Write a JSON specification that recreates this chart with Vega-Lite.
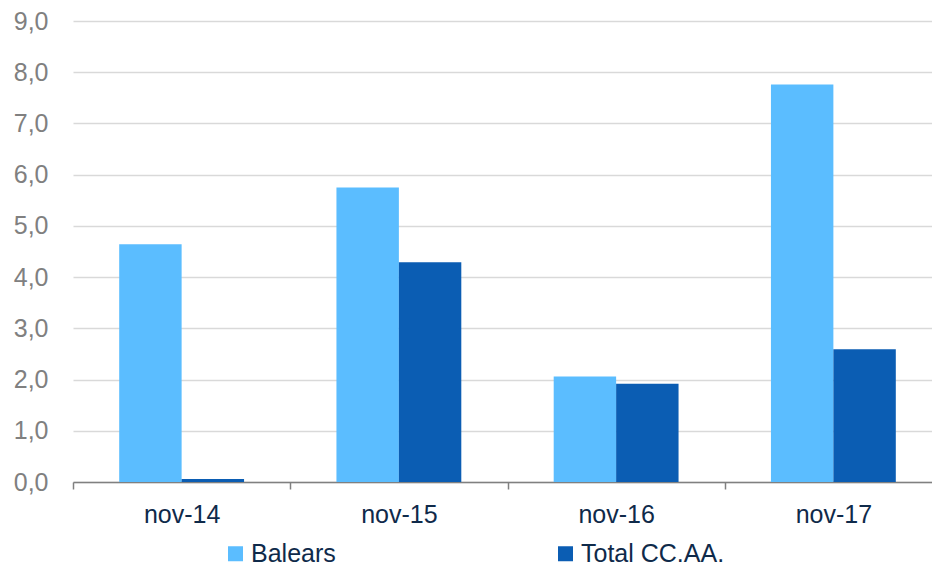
{
  "$schema": "https://vega.github.io/schema/vega-lite/v6.json",
  "width": 869,
  "height": 461,
  "autosize": {"type": "none"},
  "padding": {"left": 73, "top": 21, "right": -10, "bottom": 84},
  "background": "white",
  "data": {
    "values": [
      {"mes": "nov-14", "serie": "Balears", "valor": 4.64},
      {"mes": "nov-14", "serie": "Total CC.AA.", "valor": 0.06},
      {"mes": "nov-15", "serie": "Balears", "valor": 5.75},
      {"mes": "nov-15", "serie": "Total CC.AA.", "valor": 4.29},
      {"mes": "nov-16", "serie": "Balears", "valor": 2.06},
      {"mes": "nov-16", "serie": "Total CC.AA.", "valor": 1.92},
      {"mes": "nov-17", "serie": "Balears", "valor": 7.76},
      {"mes": "nov-17", "serie": "Total CC.AA.", "valor": 2.59}
    ]
  },
  "mark": {"type": "bar"},
  "encoding": {
    "x": {
      "field": "mes",
      "type": "nominal",
      "sort": null,
      "scale": {"paddingInner": 0, "paddingOuter": 0},
      "axis": {
        "title": null,
        "labelAngle": 0,
        "labelFont": "Liberation Sans",
        "labelFontSize": 25,
        "labelColor": "#0f2a4a",
        "labelPadding": 13,
        "tickBand": "extent",
        "tickSize": 7,
        "tickColor": "#808080",
        "tickWidth": 1.5,
        "domainColor": "#808080",
        "domainWidth": 1.5,
        "grid": false
      }
    },
    "xOffset": {
      "field": "serie",
      "type": "nominal",
      "scale": {"paddingInner": 0, "paddingOuter": 0.74}
    },
    "y": {
      "field": "valor",
      "type": "quantitative",
      "scale": {"domain": [0, 9], "nice": false},
      "axis": {
        "title": null,
        "values": [0, 1, 2, 3, 4, 5, 6, 7, 8, 9],
        "labelExpr": "replace(format(datum.value, '.1f'), '.', ',')",
        "labelFont": "Liberation Sans",
        "labelFontSize": 25,
        "labelColor": "#808080",
        "labelPadding": 25,
        "ticks": false,
        "domain": false,
        "grid": true,
        "gridColor": "#d9d9d9",
        "gridWidth": 1.5
      }
    },
    "color": {
      "field": "serie",
      "type": "nominal",
      "scale": {"domain": ["Balears", "Total CC.AA."], "range": ["#5bbdff", "#0b5db3"]},
      "legend": {
        "title": null,
        "orient": "none",
        "direction": "horizontal",
        "legendX": 150,
        "legendY": 520,
        "symbolType": "square",
        "symbolSize": 225,
        "symbolStrokeWidth": 0,
        "symbolOffset": 0,
        "labelFont": "Liberation Sans",
        "labelFontSize": 25,
        "labelColor": "#0f2a4a",
        "labelOffset": 3,
        "labelBaseline": "middle",
        "columnPadding": 217,
        "padding": 0
      }
    }
  },
  "config": {"view": {"stroke": null}}
}
